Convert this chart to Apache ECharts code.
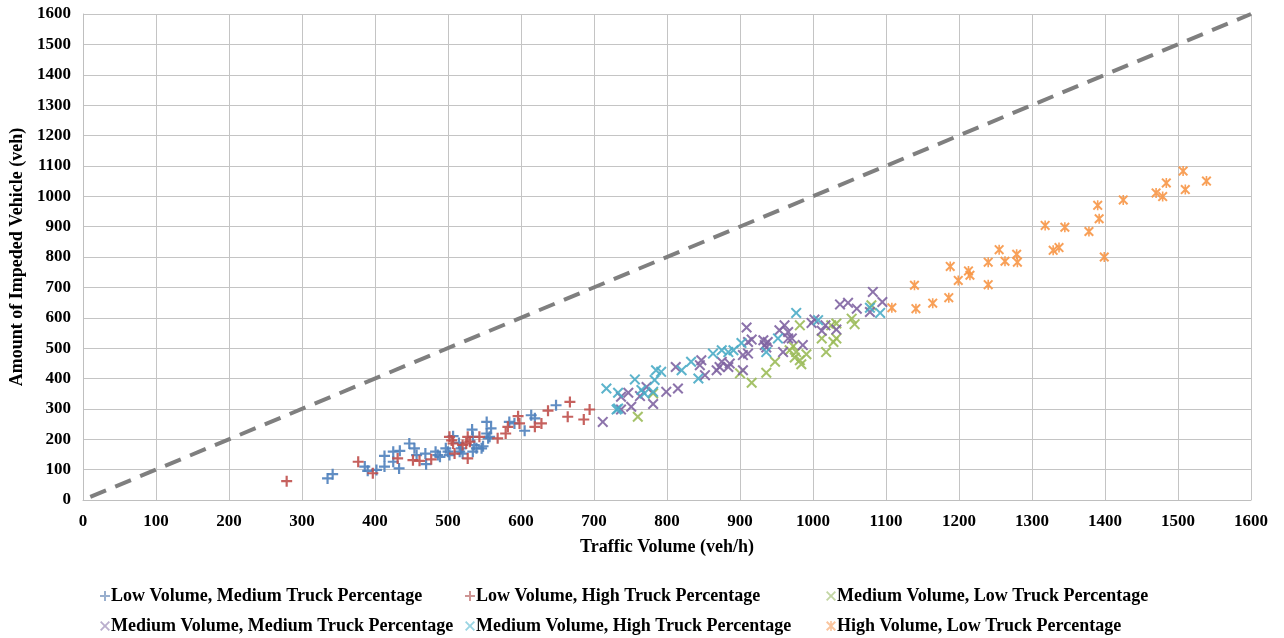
<!DOCTYPE html>
<html>
<head>
<meta charset="utf-8">
<script src="https://cdn.jsdelivr.net/npm/echarts@6/dist/echarts.min.js"></script>
<style>
  html, body { margin: 0; padding: 0; background: #fff; }
  #main { width: 1284px; height: 638px; }
</style>
</head>
<body>
<div id="main"></div>
<script>
// series names
var names = [
  'Low Volume, Medium Truck Percentage',
  'Low Volume, High Truck Percentage',
  'Medium Volume, Low Truck Percentage',
  'Medium Volume, Medium Truck Percentage',
  'Medium Volume, High Truck Percentage',
  'High Volume, Low Truck Percentage'
];

// [traffic volume, impeded vehicles]
var lowVolMedTruck = [
  [335,71],[342,85],[386,110],[390,96],[402,99],[413,145],[413,110],[425,159],[425,126],
  [434,162],[433,104],[447,186],[454,170],[457,148],[469,153],[470,118],[483,159],[486,148],
  [489,142],[497,170],[500,159],[502,148],[507,210],[515,188],[518,170],[516,159],[520,153],
  [533,232],[534,208],[536,181],[534,159],[539,170],[546,170],[548,177],[553,257],[553,219],
  [555,203],[559,236],[557,208],[584,257],[591,252],[605,228],[614,279],[619,269],[648,312]
];
var lowVolHighTruck = [
  [279,62],[377,126],[397,88],[431,137],[452,131],[461,129],[477,134],[502,208],[505,196],
  [507,186],[509,153],[520,181],[525,186],[527,208],[530,192],[527,137],[543,208],[568,203],
  [579,219],[582,241],[596,276],[598,252],[619,241],[628,252],[637,294],[664,274],[667,323],
  [686,265],[694,298]
];
var medVolLowTruck = [
  [760,274],[781,351],[900,417],[916,386],[936,419],[948,455],[968,493],[973,506],[977,487],
  [975,469],[982,460],[984,447],[991,480],[982,575],[1012,532],[1018,487],[1025,575],
  [1028,520],[1032,532],[1032,581],[1053,597],[1057,579],[1080,641]
];
var medVolMedTruck = [
  [712,257],[737,298],[737,340],[747,353],[751,307],[763,342],[772,372],[781,316],[799,356],
  [812,438],[815,367],[845,444],[847,460],[852,411],[868,427],[872,438],[875,455],[884,438],
  [886,449],[904,427],[904,477],[909,568],[911,482],[911,520],[916,528],[932,526],[934,510],
  [936,502],[938,520],[954,559],[959,487],[961,575],[966,553],[966,532],[971,532],[986,510],
  [998,583],[1002,594],[1012,557],[1017,575],[1032,561],[1037,644],[1048,649],[1060,630],
  [1078,619],[1082,685],[1095,652]
];
var medVolHighTruck = [
  [717,367],[731,298],[733,301],[733,353],[756,397],[765,362],[769,351],[781,356],[783,395],
  [785,427],[792,422],[820,427],[833,455],[843,400],[863,482],[875,493],[884,487],[891,493],
  [902,517],[936,487],[952,532],[977,616],[1007,592],[1078,633],[1092,616]
];
var highVolLowTruck = [
  [1108,633],[1139,707],[1141,630],[1164,648],[1186,666],[1188,769],[1199,723],[1213,754],
  [1215,740],[1240,709],[1240,783],[1255,824],[1263,786],[1279,809],[1280,783],[1318,904],
  [1329,822],[1337,831],[1345,898],[1378,884],[1390,970],[1392,926],[1399,800],[1425,988],
  [1470,1011],[1479,999],[1484,1044],[1507,1083],[1510,1022],[1539,1050]
];
// y = x reference line
var refLine = [[10,10],[1600,1600]];

var colors = ['#4f81bd', '#c0504d', '#9bbb59', '#8064a2', '#4bacc6', '#f79646'];
var legendColors = ['#8ea6c9', '#c98a88', '#bcd19a', '#b3a5c8', '#8fd0e0', '#f9bf93'];

var plusPath = 'path://M4,0 H6 V4 H10 V6 H6 V10 H4 V6 H0 V4 H4 Z';
var crossPath = 'path://M0,1.3 L1.3,0 L5,3.7 L8.7,0 L10,1.3 L6.3,5 L10,8.7 L8.7,10 L5,6.3 L1.3,10 L0,8.7 L3.7,5 Z';
var starPath = 'path://M0,1.4 L1.4,0 L5,3.6 L8.6,0 L10,1.4 L6.4,5 L10,8.6 L8.6,10 L5,6.4 L1.4,10 L0,8.6 L3.6,5 Z M4.2,0 H5.8 V10 H4.2 Z';
var symbols = [plusPath, plusPath, crossPath, crossPath, crossPath, starPath];
var sizes = [11, 11, 11, 11, 11, 10];
var datasets = [lowVolMedTruck, lowVolHighTruck, medVolLowTruck, medVolMedTruck, medVolHighTruck, highVolLowTruck];

var font = 'Liberation Serif';
var series = [];
for (var i = 0; i < names.length; i++) {
  series.push({
    name: names[i],
    type: 'scatter',
    data: datasets[i],
    symbol: symbols[i],
    symbolSize: sizes[i],
    itemStyle: { color: colors[i], opacity: 0.9 }
  });
}
series.push({
  name: 'ref',
  type: 'line',
  data: refLine,
  symbol: 'none',
  z: 1,
  lineStyle: { color: '#7f7f7f', width: 4, type: [17, 10] }
});

// legend positions (one legend per item)
var legendLeft = [95, 460, 821, 95, 460, 821];
var legendTop = [582, 582, 582, 612, 612, 612];
var legends = [];
for (var j = 0; j < names.length; j++) {
  legends.push({
    data: [{ name: names[j], icon: symbols[j], itemStyle: { color: legendColors[j] } }],
    left: legendLeft[j],
    top: legendTop[j],
    itemWidth: 10,
    itemHeight: 10,
    itemGap: 2,
    selectedMode: false,
    textStyle: { fontFamily: font, fontWeight: 'bold', fontSize: 18, color: '#000', padding: [0, 0, 0, -4] }
  });
}

function plainLabel(v) { return String(v); }

var chart = echarts.init(document.getElementById('main'));
chart.setOption({
  backgroundColor: '#ffffff',
  animation: false,
  grid: { left: 83, right: 33, top: 14, bottom: 138, containLabel: false, outerBoundsMode: 'none' },
  legend: legends,
  xAxis: {
    type: 'value',
    min: 0, max: 1600, interval: 100,
    name: 'Traffic Volume (veh/h)',
    nameLocation: 'middle',
    nameGap: 38,
    nameTextStyle: { fontFamily: font, fontWeight: 'bold', fontSize: 18, color: '#000' },
    axisLine: { show: true, lineStyle: { color: '#bfbfbf', width: 1 } },
    axisTick: { show: false },
    axisLabel: { fontFamily: font, fontWeight: 'bold', fontSize: 17, color: '#000', margin: 13, formatter: plainLabel },
    splitLine: { show: true, lineStyle: { color: '#c4c4c4', width: 1 } }
  },
  yAxis: {
    type: 'value',
    min: 0, max: 1600, interval: 100,
    name: 'Amount of Impeded Vehicle (veh)',
    nameLocation: 'middle',
    nameGap: 56,
    nameTextStyle: { fontFamily: font, fontWeight: 'bold', fontSize: 18, color: '#000' },
    axisLine: { show: true, lineStyle: { color: '#bfbfbf', width: 1 } },
    axisTick: { show: false },
    axisLabel: { fontFamily: font, fontWeight: 'bold', fontSize: 17, color: '#000', margin: 12, formatter: plainLabel },
    splitLine: { show: true, lineStyle: { color: '#c4c4c4', width: 1 } }
  },
  series: series
});
</script>
</body>
</html>
